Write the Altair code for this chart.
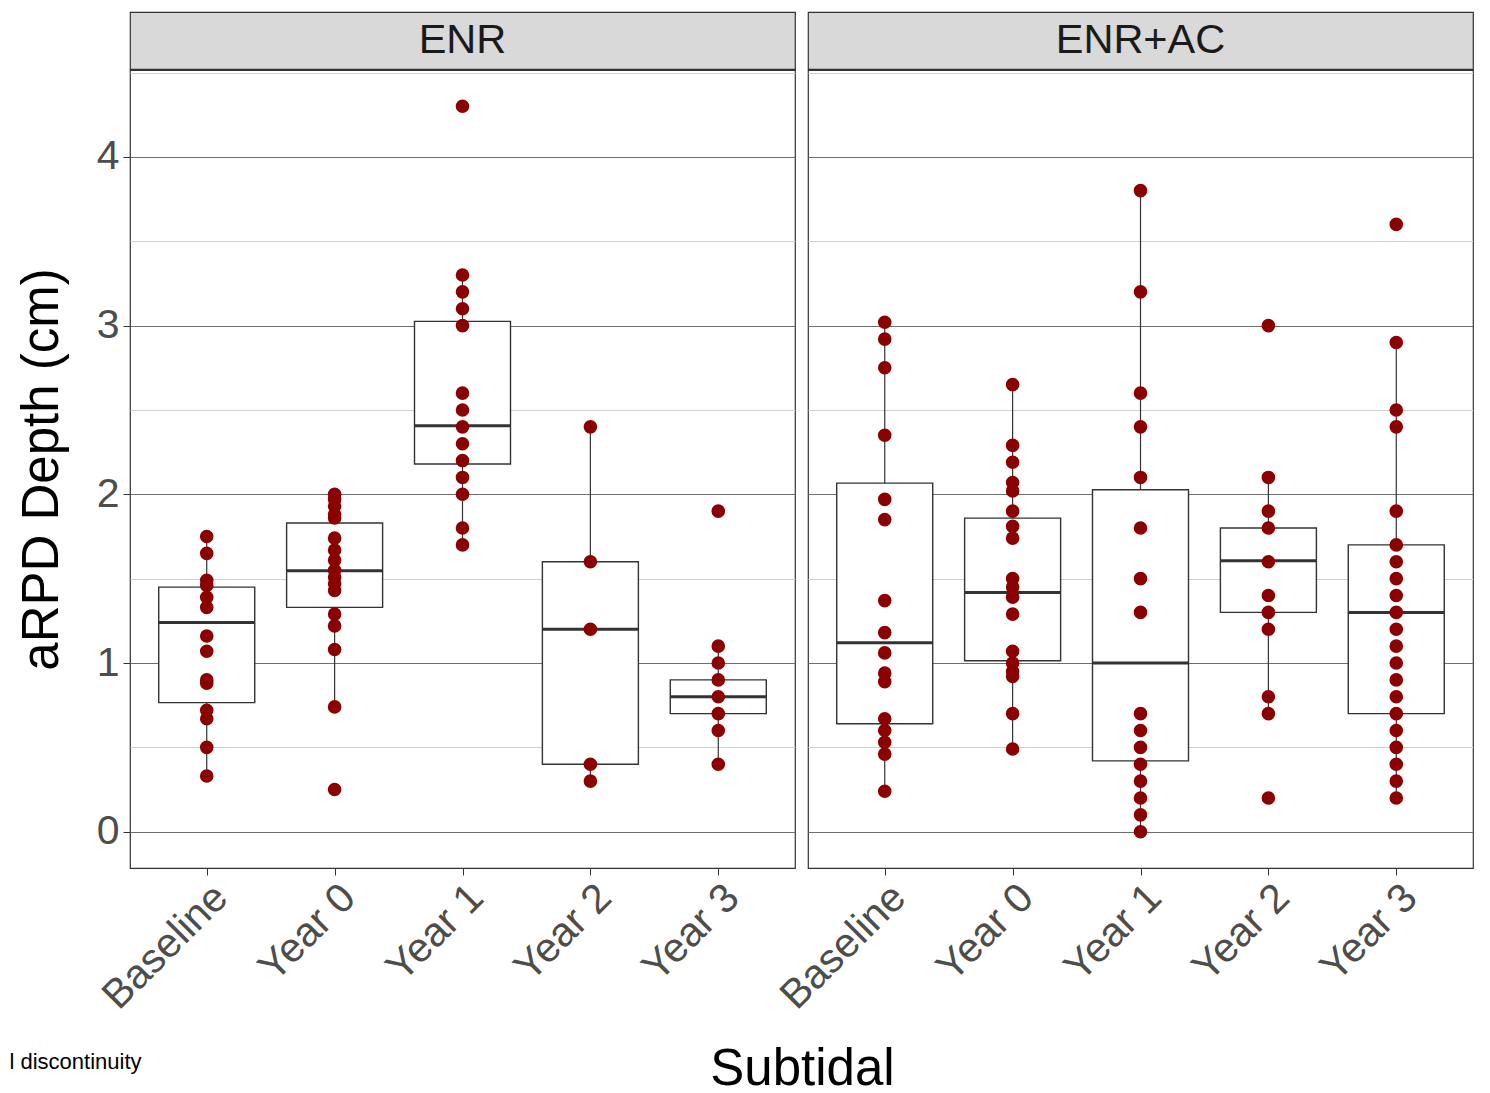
import altair as alt
import pandas as pd

FONT = "Liberation Sans"

years = ["Baseline", "Year 0", "Year 1", "Year 2", "Year 3"]
panels = ["ENR", "ENR+AC"]

# ---- ENR points ----
enr_baseline = [1.75, 1.65, 1.49, 1.46, 1.39, 1.33, 1.16, 1.07, 0.90, 0.88, 0.72, 0.67, 0.50, 0.33]
enr_year0 = [2.00, 1.97, 1.93, 1.88, 1.86, 1.74, 1.67, 1.61, 1.55, 1.51, 1.47, 1.43, 1.29, 1.22, 1.08, 0.74, 0.25]
enr_year1 = [4.3, 3.3, 3.2, 3.1, 3.0, 2.6, 2.5, 2.4, 2.3, 2.2, 2.1, 2.0, 1.8, 1.7]
enr_year2 = [2.4, 1.6, 1.2, 0.4, 0.3]
enr_year3 = [1.9, 1.1, 1.0, 0.9, 0.8, 0.7, 0.6, 0.4]

# ---- ENR box statistics ----
enr_q1 = [0.765, 1.33, 2.18, 0.40, 0.70]
enr_med = [1.24, 1.547, 2.406, 1.20, 0.80]
enr_q3 = [1.45, 1.83, 3.025, 1.60, 0.90]
enr_lo = [0.33, 0.74, 1.70, 0.30, 0.40]
enr_hi = [1.75, 2.00, 3.30, 2.40, 1.10]

# ---- ENR+AC points ----
ac_baseline = [3.02, 2.92, 2.75, 2.35, 1.97, 1.85, 1.37, 1.18, 1.06, 0.94, 0.89, 0.67, 0.60, 0.53, 0.46, 0.24]
ac_year0 = [2.65, 2.29, 2.19, 2.07, 2.02, 1.90, 1.81, 1.74, 1.50, 1.45, 1.39, 1.29, 1.07, 1.00, 0.95, 0.92, 0.70, 0.49]
ac_year1 = [3.8, 3.2, 2.6, 2.4, 2.1, 1.8, 1.5, 1.3, 0.7, 0.6, 0.5, 0.4, 0.3, 0.2, 0.1, 0.0]
ac_year2 = [3.0, 2.1, 1.9, 1.8, 1.6, 1.4, 1.3, 1.2, 0.8, 0.7, 0.2]
ac_year3 = [3.6, 2.9, 2.5, 2.4, 1.9, 1.7, 1.6, 1.5, 1.4, 1.3, 1.2, 1.1, 1.0, 0.9, 0.8, 0.7, 0.6, 0.5, 0.4, 0.3, 0.2]

# ---- ENR+AC box statistics ----
ac_q1 = [0.64, 1.013, 0.42, 1.30, 0.70]
ac_med = [1.12, 1.418, 1.00, 1.606, 1.30]
ac_q3 = [2.066, 1.859, 2.027, 1.80, 1.70]
ac_lo = [0.24, 0.49, 0.00, 0.70, 0.20]
ac_hi = [3.02, 2.65, 3.80, 2.10, 2.90]

y_ticks = [0, 0.5, 1, 1.5, 2, 2.5, 3, 3.5, 4, 4.5]
y_domain = [-0.215, 4.515]


def points_df(groups):
    rows = []
    for yr, vals in zip(years, groups):
        for v in vals:
            rows.append({"year": yr, "value": v})
    return pd.DataFrame(rows)


def stats_df(q1, med, q3, lo, hi):
    return pd.DataFrame({"year": years, "q1": q1, "med": med, "q3": q3, "lo": lo, "hi": hi})


enr_pts = points_df([enr_baseline, enr_year0, enr_year1, enr_year2, enr_year3])
ac_pts = points_df([ac_baseline, ac_year0, ac_year1, ac_year2, ac_year3])
enr_stats = stats_df(enr_q1, enr_med, enr_q3, enr_lo, enr_hi)
ac_stats = stats_df(ac_q1, ac_med, ac_q3, ac_lo, ac_hi)

W = 665
H = 798
MAJOR = "datum.value % 1 === 0"
TICKFONT = 41


def plot(pts, stats, left):
    if left:
        x_axis = alt.Axis(
            labelAngle=-45, labelAlign="right", labelBaseline="top",
            labelFontSize=TICKFONT, labelColor="#4D4D4D", labelFont=FONT, labelPadding=2,
            tickSize=7, tickColor="#333333", domain=False, grid=False,
            title="l discontinuity", titleFont=FONT, titleFontSize=22,
            titleFontWeight="normal", titleColor="#000000",
            titleX=-121, titleY=193, titleAlign="left", titleBaseline="middle", titleAngle=0,
        )
        y_axis = alt.Axis(
            values=y_ticks, grid=True,
            gridColor={"condition": {"test": MAJOR, "value": "#6e6e6e"}, "value": "#cfcfcf"},
            tickOpacity={"condition": {"test": MAJOR, "value": 1}, "value": 0},
            labelExpr="datum.value % 1 === 0 ? datum.label : ''",
            format=".0f", labelFontSize=TICKFONT, labelColor="#4D4D4D", labelFont=FONT,
            labelPadding=4, tickSize=7, tickColor="#333333", domain=False,
            title="aRPD Depth (cm)", titleFont=FONT, titleFontSize=51,
            titleFontWeight="normal", titleColor="#000000", titlePadding=28,
        )
    else:
        x_axis = alt.Axis(
            labelAngle=-45, labelAlign="right", labelBaseline="top",
            labelFontSize=TICKFONT, labelColor="#4D4D4D", labelFont=FONT, labelPadding=2,
            tickSize=7, tickColor="#333333", domain=False, grid=False,
            title="Subtidal", titleFont=FONT, titleFontSize=51,
            titleFontWeight="normal", titleColor="#000000",
            titleX=-6, titleY=201, titleAlign="center", titleBaseline="middle", titleAngle=0,
        )
        y_axis = alt.Axis(
            values=y_ticks, grid=True,
            gridColor={"condition": {"test": MAJOR, "value": "#6e6e6e"}, "value": "#cfcfcf"},
            labels=False, ticks=False, domain=False, title=None,
        )

    x = alt.X("year:N", sort=years, scale=alt.Scale(type="point", padding=0.6, domain=years), axis=x_axis)
    yscale = alt.Scale(domain=y_domain, nice=False, zero=False)

    whisk = alt.Chart(stats).mark_rule(color="#333333", strokeWidth=1.2).encode(
        x=x, y=alt.Y("lo:Q", scale=yscale, axis=y_axis), y2="hi:Q")
    box = alt.Chart(stats).mark_bar(width=96, fill="white", stroke="#333333", strokeWidth=1.4).encode(
        x=x, y=alt.Y("q1:Q", scale=yscale, axis=y_axis), y2="q3:Q")
    med = alt.Chart(stats).mark_tick(size=96, thickness=3, color="#333333", opacity=1).encode(
        x=x, y=alt.Y("med:Q", scale=yscale, axis=y_axis))
    pts_layer = alt.Chart(pts).mark_circle(size=185, color="#8B0000", opacity=1).encode(
        x=x, y=alt.Y("value:Q", scale=yscale, axis=y_axis))

    return alt.layer(whisk, box, med, pts_layer).properties(width=W, height=H)


def strip(label):
    return alt.Chart(pd.DataFrame({"panel": [label]})).mark_text(
        fontSize=41.5, font=FONT, color="#1A1A1A", baseline="middle", align="center"
    ).encode(text="panel:N").properties(
        width=W, height=57, view=alt.ViewBackground(fill="#D9D9D9", stroke="#333333", strokeWidth=1.2)
    )


chart = alt.concat(
    strip(panels[0]), strip(panels[1]),
    plot(enr_pts, enr_stats, True), plot(ac_pts, ac_stats, False),
    columns=2, spacing={"row": 1, "column": 13}, bounds="flush",
).properties(
    padding={"left": 0, "top": 3, "right": 5, "bottom": 5}
).configure_view(stroke="#333333", strokeWidth=1.2, fill="white")

chart.save("out.html", embed_options={"renderer": "svg", "actions": False})
